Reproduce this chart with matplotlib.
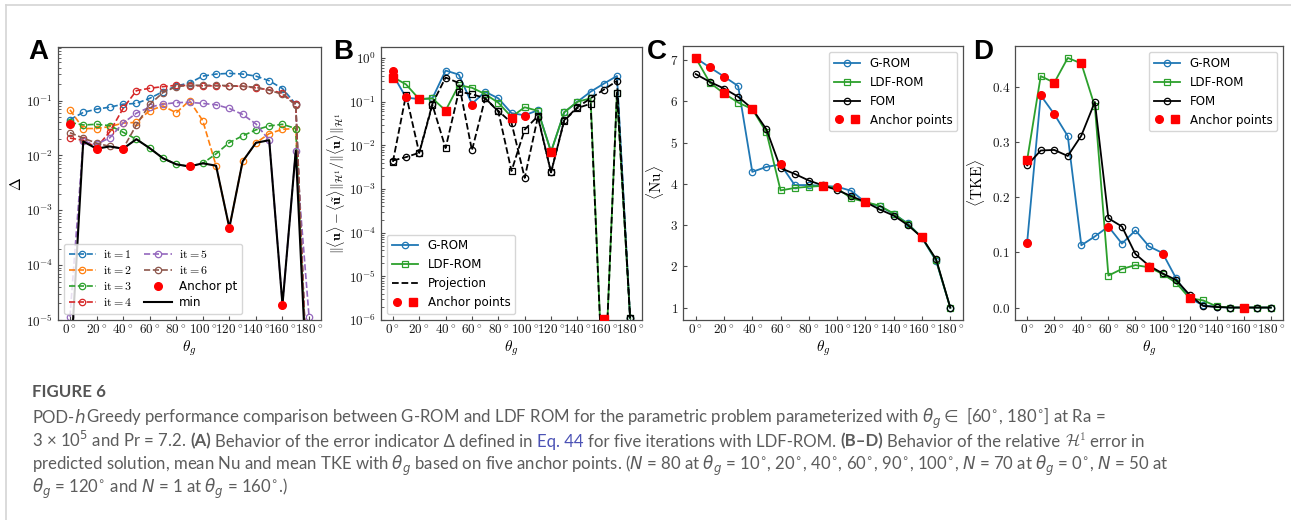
import numpy as np
import matplotlib
matplotlib.use("Agg")
import matplotlib.pyplot as plt
from matplotlib.lines import Line2D
from matplotlib.legend_handler import HandlerTuple
from matplotlib.ticker import FuncFormatter, NullFormatter, LogLocator

plt.rcParams['mathtext.fontset'] = 'cm'
plt.rcParams['font.family'] = ['DejaVu Sans']

# ---------------------------------------------------------------- data
theta = [0, 10, 20, 30, 40, 50, 60, 70, 80, 90, 100, 110, 120, 130, 140, 150, 160, 170, 180]

# (A) error indicator per greedy iteration (LDF-ROM)
delta_it1 = [0.045, 0.061, 0.070, 0.076, 0.086, 0.089, 0.11, 0.146, 0.185, 0.21, 0.28, 0.305,
             0.314, 0.305, 0.28, 0.23, 0.166, 0.086, 1e-7]
delta_it2 = [0.068, 0.031, 0.031, 0.0336, 0.039, 0.040, 0.066, 0.080, 0.060, 0.100, 0.043, 0.0065,
             4.8e-4, 0.0078, 0.017, 0.025, 0.030, 0.031, 1e-7]
delta_it3 = [0.040, 0.036, 0.037, 0.035, 0.0265, 0.0198, 0.0136, 0.0089, 0.0069, 0.0063, 0.0072,
             0.0107, 0.0172, 0.0228, 0.0293, 0.0346, 0.037, 0.031, 1e-7]
delta_it4 = [0.0207, 0.019, 0.014, 0.027, 0.072, 0.152, 0.168, 0.18, 0.19, 0.188, 0.186, 0.186,
             0.185, 0.183, 0.17, 0.158, 0.136, 0.085, 1e-7]
delta_it5 = [1.15e-5, 0.018, 0.016, 0.021, 0.039, 0.059, 0.076, 0.086, 0.092, 0.093, 0.089, 0.084,
             0.072, 0.056, 0.0376, 0.019, 1.9e-5, 0.0123, 1.15e-5]
delta_it6 = [0.026, 0.0207, 0.0168, 0.0146, 0.0133, 0.036, 0.085, 0.14, 0.18, 0.19, 0.19, 0.19,
             0.188, 0.183, 0.175, 0.155, 0.13, 0.083, 1e-7]
delta_min = [1e-6, 0.018, 0.0133, 0.0146, 0.0133, 0.0198, 0.0136, 0.0089, 0.0069, 0.0063, 0.0072,
             0.0065, 4.8e-4, 0.0078, 0.017, 0.019, 1.9e-5, 0.0123, 1e-7]
anchor_a_theta = [0, 20, 40, 90, 120, 160]
anchor_a_delta = [0.038, 0.0133, 0.0133, 0.0063, 4.8e-4, 1.9e-5]

# (B) relative H1 error
err_grom = [0.42, 0.125, 0.115, 0.12, 0.52, 0.42, 0.09, 0.17, 0.12, 0.055, 0.049, 0.064, 0.0072,
            0.057, 0.10, 0.17, 0.26, 0.39, 1.1e-6]
err_ldf = [0.37, 0.25, 0.115, 0.12, 0.063, 0.24, 0.21, 0.15, 0.095, 0.045, 0.075, 0.062, 0.0072,
           0.058, 0.10, 0.12, 1e-8, 0.16, 1.1e-6]
err_proj_grom = [0.0045, 0.0054, 0.0068, 0.09, 0.36, 0.27, 0.0077, 0.12, 0.062, 0.033, 0.0018,
                 0.045, 0.0024, 0.038, 0.075, 0.12, 0.19, 0.30, 1.1e-6]
err_proj_ldf = [0.0042, 0.145, 0.0067, 0.085, 0.0087, 0.17, 0.15, 0.12, 0.06, 0.0026, 0.023, 0.047,
                0.0024, 0.037, 0.072, 0.09, 1e-8, 0.16, 1.1e-6]

# anchor points: G-ROM (circles) and LDF-ROM (squares)
anchor_g_theta = [0, 10, 20, 60, 100]
anchor_l_theta = [0, 20, 40, 90, 120, 160]
anchor_g_err = [0.5, 0.13, 0.115, 0.085, 0.047]
anchor_l_err = [0.36, 0.115, 0.062, 0.043, 0.007, 1.05e-6]

# (C) mean Nusselt number
nu_grom = [7.05, 6.82, 6.60, 6.37, 4.29, 4.41, 4.47, 3.97, 3.97, 3.95, 3.93, 3.83, 3.55, 3.46,
           3.27, 3.04, 2.69, 2.13, 1.0]
nu_ldf = [7.05, 6.45, 6.19, 5.97, 5.81, 5.25, 3.84, 3.90, 3.93, 3.95, 3.89, 3.65, 3.56, 3.47,
          3.28, 3.02, 2.70, 2.15, 1.0]
nu_fom = [6.66, 6.47, 6.31, 6.11, 5.82, 5.32, 4.38, 4.24, 4.08, 3.96, 3.85, 3.70, 3.56, 3.38,
          3.23, 3.00, 2.70, 2.17, 1.0]
anchor_g_nu = [7.05, 6.82, 6.60, 4.47, 3.92]
anchor_l_nu = [7.05, 6.20, 5.82, 3.94, 3.56, 2.70]

# (D) mean turbulent kinetic energy
tke_grom = [0.119, 0.385, 0.351, 0.311, 0.113, 0.129, 0.147, 0.116, 0.140, 0.111, 0.099, 0.053,
            0.017, 0.004, 0.001, 0.0, 0.0, 0.0, 0.0]
tke_ldf = [0.268, 0.420, 0.408, 0.453, 0.443, 0.365, 0.058, 0.070, 0.077, 0.073, 0.061, 0.045,
           0.017, 0.013, 0.002, 0.0, 0.0, 0.0, 0.0]
tke_fom = [0.258, 0.285, 0.286, 0.275, 0.312, 0.373, 0.162, 0.147, 0.097, 0.076, 0.062, 0.050,
           0.023, 0.003, 0.001, 0.0, 0.0, 0.0, 0.0]
anchor_g_tke = [0.118, 0.385, 0.351, 0.147, 0.098]
anchor_l_tke = [0.268, 0.407, 0.443, 0.073, 0.017, 0.0]

iter_labels = [r"$\mathrm{it}=1$", r"$\mathrm{it}=2$", r"$\mathrm{it}=3$",
               r"$\mathrm{it}=4$", r"$\mathrm{it}=5$", r"$\mathrm{it}=6$"]
xtick_deg = [0, 20, 40, 60, 80, 100, 120, 140, 160, 180]

# ---------------------------------------------------------------- figure
W, H = 1291, 520
fig = plt.figure(figsize=(W / 100, H / 100), dpi=100)
fig.patch.set_facecolor('white')

C_BLUE, C_ORANGE, C_GREEN = '#1f77b4', '#ff7f0e', '#2ca02c'
C_RED, C_PURPLE, C_BROWN = '#d62728', '#9467bd', '#8c564b'
ANCHOR = '#ff0000'
TICK_FS = 9.5
LEG_FS = 8.6
MS = 4.6


def add_axes(left, top, right, bottom):
    return fig.add_axes([left / W, 1 - bottom / H, (right - left) / W, (bottom - top) / H])


def style_axes(ax):
    for s in ax.spines.values():
        s.set_color('0.3')
        s.set_linewidth(0.9)
    ax.tick_params(which='both', direction='in', colors='0.3', labelcolor='0.1',
                   labelsize=TICK_FS)
    ax.tick_params(axis='x', pad=2.5, length=3)
    ax.tick_params(axis='y', pad=3.5, length=3)
    ax.tick_params(which='minor', length=1.8)
    ax.set_xticks(xtick_deg)
    ax.set_xticklabels([rf"${d}^\circ$" for d in xtick_deg])
    ax.set_xlim(-9, 189)
    ax.set_xlabel(r"$\theta_g$", fontsize=11, labelpad=0.5)


def log_axes(ax):
    ax.set_yscale('log')
    ax.yaxis.set_major_locator(LogLocator(base=10, numticks=15))
    ax.yaxis.set_major_formatter(FuncFormatter(lambda v, p: rf"$10^{{{int(round(np.log10(v)))}}}$"))
    ax.yaxis.set_minor_locator(LogLocator(base=10, subs=np.arange(2, 10), numticks=15))
    ax.yaxis.set_minor_formatter(NullFormatter())


anchor_handle = (Line2D([], [], ls='none', marker='o', color=ANCHOR, ms=5.5),
                 Line2D([], [], ls='none', marker='s', color=ANCHOR, ms=5.5))

# ---------------------------- (A)
axA = add_axes(58, 47, 321, 320)
style_axes(axA)
log_axes(axA)
series_a = [delta_it1, delta_it2, delta_it3, delta_it4, delta_it5, delta_it6]
colors_a = [C_BLUE, C_ORANGE, C_GREEN, C_RED, C_PURPLE, C_BROWN]
handles_a = []
for vals, col, lab in zip(series_a, colors_a, iter_labels):
    h, = axA.plot(theta, vals, ls='--', color=col, lw=1.2, marker='o', ms=MS, mfc='none',
                  mew=0.9, label=lab)
    handles_a.append(h)
hmin, = axA.plot(theta, delta_min, color='black', lw=1.5, label='min')
hanc, = axA.plot(anchor_a_theta, anchor_a_delta, ls='none', marker='o', color=ANCHOR, ms=5.5,
                 label='Anchor pt', zorder=5)
axA.set_ylim(1e-5, 0.95)
axA.set_ylabel(r"$\Delta$", fontsize=11, labelpad=1)
axA.legend(handles=handles_a + [hanc, hmin],
           labels=iter_labels + ['Anchor pt', 'min'],
           ncol=2, loc='lower left', fontsize=LEG_FS, labelspacing=0.25, handlelength=2.3,
           columnspacing=1.0, handletextpad=0.6, borderpad=0.4)

# ---------------------------- (B)
axB = add_axes(381, 47, 642, 320)
style_axes(axB)
log_axes(axB)
hg, = axB.plot(theta, err_grom, color=C_BLUE, lw=1.3, marker='o', ms=MS, mfc='none', mew=0.9)
hl, = axB.plot(theta, err_ldf, color=C_GREEN, lw=1.3, marker='s', ms=MS, mfc='none', mew=0.9)
axB.plot(theta, err_proj_grom, color='black', ls='--', lw=1.3, marker='o', ms=MS,
         mfc='none', mew=0.9)
axB.plot(theta, err_proj_ldf, color='black', ls='--', lw=1.3, marker='s', ms=MS, mfc='none',
         mew=0.9)
axB.plot(anchor_g_theta, anchor_g_err, ls='none', marker='o', color=ANCHOR, ms=5.5, zorder=5)
axB.plot(anchor_l_theta, anchor_l_err, ls='none', marker='s', color=ANCHOR, ms=5.5, zorder=5)
axB.set_ylim(1e-6, 1.8)
axB.set_ylabel(r"$\|\langle \mathbf{u}\rangle - \langle \tilde{\mathbf{u}}\rangle\|_{\mathcal{H}^1}"
               r"/\|\langle \mathbf{u}\rangle\|_{\mathcal{H}^1}$", fontsize=10, labelpad=1.5)
proj_handle = Line2D([], [], color='black', ls='--', lw=1.3)
axB.legend([hg, hl, proj_handle, anchor_handle],
           ['G-ROM', 'LDF-ROM', 'Projection', 'Anchor points'],
           handler_map={tuple: HandlerTuple(ndivide=None)},
           loc='lower left', fontsize=LEG_FS, handlelength=2.2)

# ---------------------------- (C)
axC = add_axes(683, 46, 963, 320)
style_axes(axC)
hg, = axC.plot(theta, nu_grom, color=C_BLUE, lw=1.3, marker='o', ms=MS, mfc='none', mew=0.9)
hl, = axC.plot(theta, nu_ldf, color=C_GREEN, lw=1.3, marker='s', ms=MS, mfc='none', mew=0.9)
hf, = axC.plot(theta, nu_fom, color='black', lw=1.3, marker='o', ms=MS, mfc='none', mew=0.9)
axC.plot(anchor_g_theta, anchor_g_nu, ls='none', marker='o', color=ANCHOR, ms=5.5, zorder=5)
axC.plot(anchor_l_theta, anchor_l_nu, ls='none', marker='s', color=ANCHOR, ms=5.5, zorder=5)
axC.set_ylim(0.70, 7.34)
axC.set_yticks([1, 2, 3, 4, 5, 6, 7])
axC.yaxis.set_major_formatter(FuncFormatter(lambda v, p: rf"${v:.0f}$"))
axC.set_ylabel(r"$\langle \mathrm{Nu} \rangle$", fontsize=11, labelpad=3)
axC.legend([hg, hl, hf, anchor_handle], ['G-ROM', 'LDF-ROM', 'FOM', 'Anchor points'],
           handler_map={tuple: HandlerTuple(ndivide=None)},
           loc='upper right', fontsize=LEG_FS, handlelength=2.2)

# ---------------------------- (D)
axD = add_axes(1015, 46, 1283, 320)
style_axes(axD)
hg, = axD.plot(theta, tke_grom, color=C_BLUE, lw=1.3, marker='o', ms=MS, mfc='none', mew=0.9)
hl, = axD.plot(theta, tke_ldf, color=C_GREEN, lw=1.3, marker='s', ms=MS, mfc='none', mew=0.9)
hf, = axD.plot(theta, tke_fom, color='black', lw=1.3, marker='o', ms=MS, mfc='none', mew=0.9)
axD.plot(anchor_g_theta, anchor_g_tke, ls='none', marker='o', color=ANCHOR, ms=5.5, zorder=5)
axD.plot(anchor_l_theta, anchor_l_tke, ls='none', marker='s', color=ANCHOR, ms=5.5, zorder=5)
axD.set_ylim(-0.0226, 0.4746)
axD.set_yticks([0.0, 0.1, 0.2, 0.3, 0.4])
axD.yaxis.set_major_formatter(FuncFormatter(lambda v, p: rf"${v:.1f}$"))
axD.set_ylabel(r"$\langle \mathrm{TKE} \rangle$", fontsize=11, labelpad=3)
axD.legend([hg, hl, hf, anchor_handle], ['G-ROM', 'LDF-ROM', 'FOM', 'Anchor points'],
           handler_map={tuple: HandlerTuple(ndivide=None)},
           loc='upper right', fontsize=LEG_FS, handlelength=2.2)

# ---------------------------- panel letters
for letter, px in [('A', 28), ('B', 333), ('C', 647), ('D', 973)]:
    fig.text(px / W, 1 - 59 / H, letter, fontsize=20, fontweight='bold',
             family='Liberation Sans', ha='left', va='baseline', color='black')

# ---------------------------- page frame
fig.add_artist(Line2D([6 / W, 6 / W], [0, 1 - 5 / H], transform=fig.transFigure,
                      color='#d4d4d4', lw=1.2))
fig.add_artist(Line2D([6 / W, 1], [1 - 5 / H, 1 - 5 / H], transform=fig.transFigure,
                      color='#d4d4d4', lw=1.2))

# ---------------------------- caption
CAP_COLOR = '#5c5c5c'
LINK_COLOR = '#4b52b5'
CAP_FAMILY = ['Lato', 'DejaVu Sans']
renderer = fig.canvas.get_renderer()

caption_lines = [
    [("POD-", 'n'), ("$h$", 'n'),
     (r"Greedy performance comparison between G-ROM and LDF ROM for the parametric problem "
      r"parameterized with $\theta_g \in$ [60$^{\circ}$, 180$^{\circ}$] at Ra =", 'n')],
    [(r"3 × 10$^5$ and Pr = 7.2. ", 'n'), ("(A)", 'b'),
     (" Behavior of the error indicator Δ defined in ", 'n'), ("Eq. 44", 'l'),
     (" for five iterations with LDF-ROM. ", 'n'), ("(B–D)", 'b'),
     (" Behavior of the relative ", 'n'), (r"$\mathcal{H}^1$", 'c'), (" error in", 'n')],
    [(r"predicted solution, mean Nu and mean TKE with $\theta_g$ based on five anchor points. "
      r"($N$ = 80 at $\theta_g$ = 10$^{\circ}$, 20$^{\circ}$, 40$^{\circ}$, 60$^{\circ}$, "
      r"90$^{\circ}$, 100$^{\circ}$, $N$ = 70 at $\theta_g$ = 0$^{\circ}$, $N$ = 50 at", 'n')],
    [(r"$\theta_g$ = 120$^{\circ}$ and $N$ = 1 at $\theta_g$ = 160$^{\circ}$.)", 'n')],
]
caption_baselines = [423.3, 446.6, 469.9, 493.2]
CAP_X0 = 32


def seg_props(kind, size):
    p = dict(fontsize=size, color=CAP_COLOR, family=CAP_FAMILY, math_fontfamily='dejavusans')
    if kind == 'b':
        p['fontweight'] = 'bold'
    elif kind == 'l':
        p['color'] = LINK_COLOR
    elif kind == 'c':
        p['math_fontfamily'] = 'cm'
    return p


def text_width(s, props):
    t = fig.text(0, 0, s, **props)
    w = t.get_window_extent(renderer).width
    t.remove()
    return w


def lay_line(segments, x0, ybase, size, keep=True):
    x = x0
    space = text_width("a a", seg_props('n', size)) - text_width("aa", seg_props('n', size))
    for s, kind in segments:
        lead = len(s) - len(s.lstrip(' '))
        trail = len(s) - len(s.rstrip(' '))
        body = s.strip(' ')
        x += lead * space
        t = fig.text(x / W, 1 - ybase / H, body, ha='left', va='baseline', **seg_props(kind, size))
        x += t.get_window_extent(renderer).width + trail * space
        if not keep:
            t.remove()
    return x


trial = 12.0
right = lay_line(caption_lines[1], CAP_X0, 0, trial, keep=False)
cap_size = trial * (1138 - CAP_X0) / (right - CAP_X0)

for segs, yb in zip(caption_lines, caption_baselines):
    lay_line(segs, CAP_X0, yb, cap_size)

fig.text(CAP_X0 / W, 1 - 396.7 / H, "FIGURE 6", fontsize=12.2, fontweight='bold',
         family=CAP_FAMILY, color='#555555', ha='left', va='baseline')

fig.savefig('out.png', dpi=100, facecolor='white')
